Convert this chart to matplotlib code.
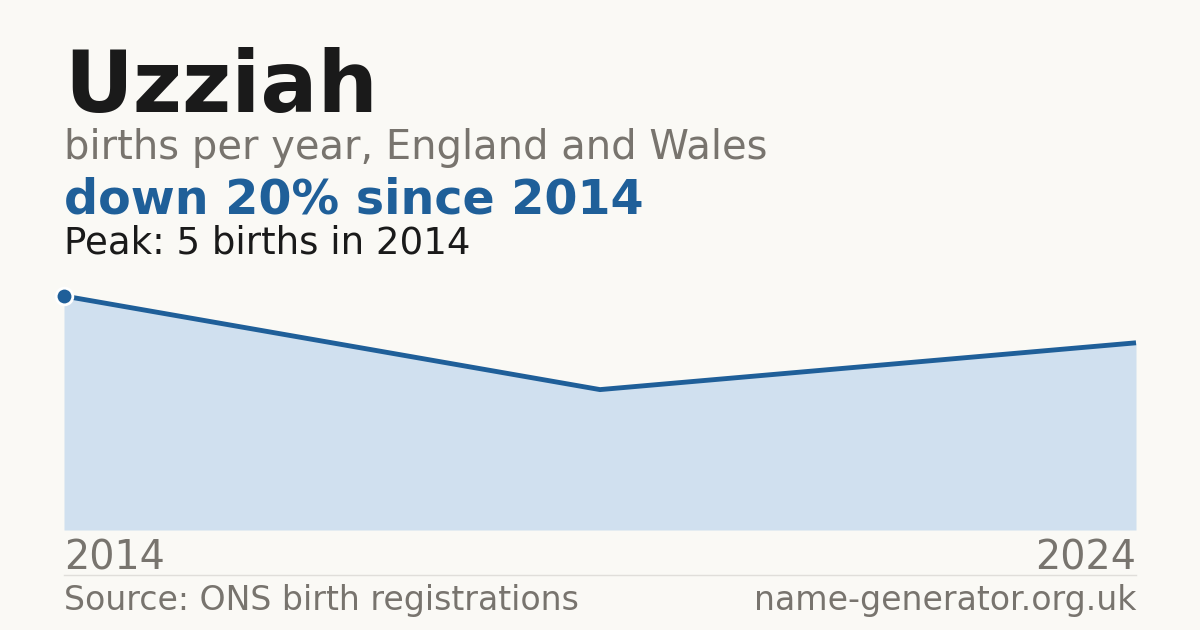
import matplotlib
matplotlib.use("Agg")
import matplotlib.pyplot as plt

years = [2014, 2019, 2024]
births = [5, 3, 4]

name = "Uzziah"
subtitle = "births per year, England and Wales"
headline = "down 20% since 2014"
peak_note = "Peak: 5 births in 2014"
source = "Source: ONS birth registrations"
site = "name-generator.org.uk"

BG = "#faf9f5"
BLUE = "#1f5f99"
FILL = "#d0e0ef"
GREY = "#78746e"
DARK = "#1a1a1a"

W, H = 1200, 630
fig = plt.figure(figsize=(W / 100, H / 100), dpi=100, facecolor=BG)


def fy(px):
    return 1 - px / H


# chart area: x 64..1136, y base 530, peak 296
ax = fig.add_axes([64 / W, fy(530), 1072 / W, (530 - 296) / H])
ax.set_facecolor(BG)
ax.fill_between(years, births, 0, color=FILL, lw=0)
ax.plot(years, births, color=BLUE, lw=3.5, solid_capstyle="butt", clip_on=False, zorder=3)
ax.plot(years[0], births[0], "o", ms=12, color=BLUE, mec="white", mew=2, clip_on=False, zorder=4)
ax.set_xlim(years[0], years[-1])
ax.set_ylim(0, max(births))
ax.axis("off")

fig.text(64 / W, fy(112), name, fontsize=61, fontweight="bold", color=DARK, va="baseline")
fig.text(64 / W, fy(159), subtitle, fontsize=28.8, color=GREY, va="baseline")
fig.text(64 / W, fy(214), headline, fontsize=34.3, fontweight="bold", color=BLUE, va="baseline")
fig.text(64 / W, fy(253), peak_note, fontsize=26.7, color=DARK, va="baseline")

fig.text(64 / W, fy(569), str(years[0]), fontsize=28.5, color=GREY, va="baseline")
fig.text(1136 / W, fy(569), str(years[-1]), fontsize=28.5, color=GREY, va="baseline", ha="right")

fig.add_artist(plt.Line2D([64 / W, 1136 / W], [fy(575), fy(575)], color="#e0deda", lw=1))

fig.text(64 / W, fy(610), source, fontsize=23.9, color=GREY, va="baseline")
fig.text(1136 / W, fy(610), site, fontsize=23.9, color=GREY, va="baseline", ha="right")

fig.savefig("out.png", dpi=100, facecolor=BG)
